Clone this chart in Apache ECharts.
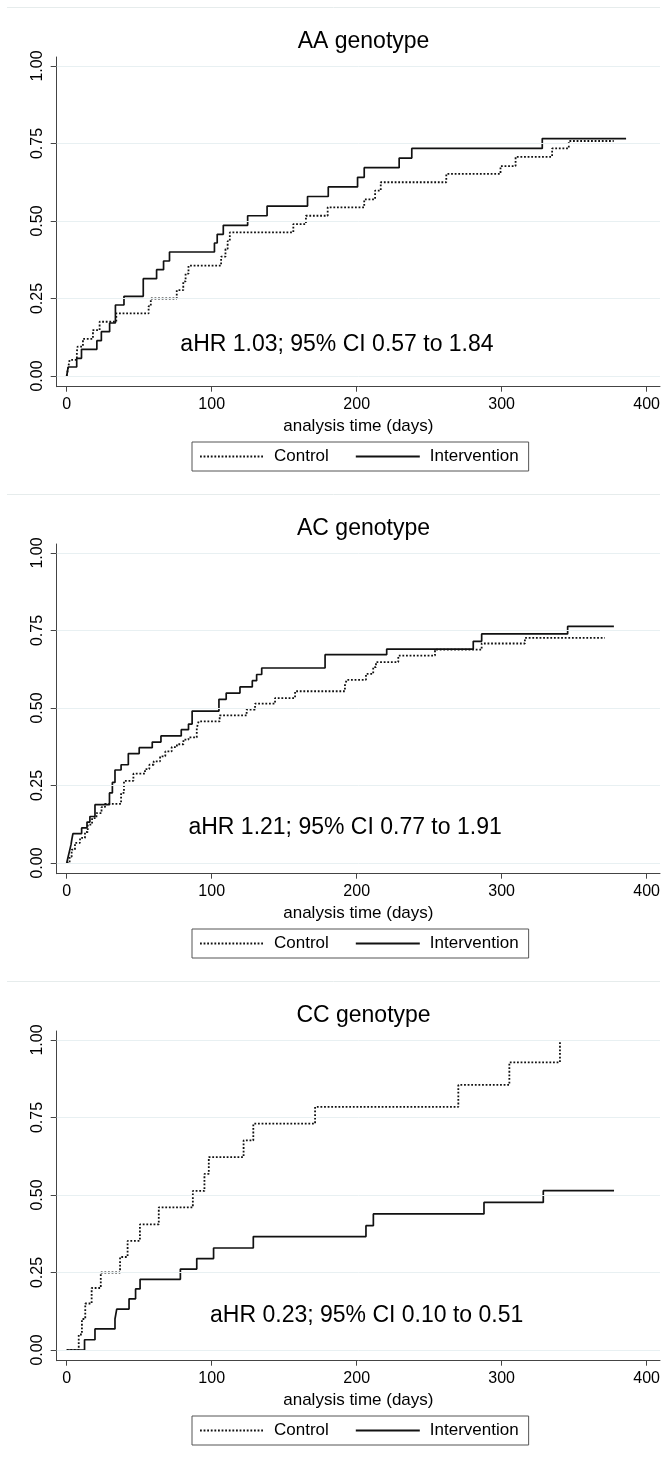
<!DOCTYPE html>
<html><head><meta charset="utf-8">
<script src="https://cdn.jsdelivr.net/npm/echarts@6/dist/echarts.min.js"></script>
<style>
html,body{margin:0;padding:0;background:#fff;}
.panel{width:667px;height:487px;}
</style></head><body>
<div id="p0" class="panel"></div><div id="p1" class="panel"></div><div id="p2" class="panel"></div>
<script>
const panelTitles = ['AA genotype', 'AC genotype', 'CC genotype'];
const annotations = ['aHR 1.03; 95% CI 0.57 to 1.84', 'aHR 1.21; 95% CI 0.77 to 1.91', 'aHR 0.23; 95% CI 0.10 to 0.51'];
const seriesNames = ['Control', 'Intervention'];
const xAxisTitle = 'analysis time (days)';
const xTicks = [0, 100, 200, 300, 400];
const yTicks = [0, 0.25, 0.5, 0.75, 1];

const aaControl = [[0,0],[1,0.026],[2,0.052],[7,0.078],[7.5,0.095],[11.2,0.12],[18.1,0.148],[22.7,0.175],[34.2,0.202],[56.5,0.225],[58,0.25],[75.9,0.277],[80.4,0.305],[82,0.33],[84,0.356],[106.5,0.385],[109.5,0.41],[111,0.435],[112.5,0.463],[156.3,0.49],[165,0.517],[180,0.544],[205.2,0.57],[212.7,0.598],[216.6,0.625],[261.8,0.652],[299.2,0.677],[309.6,0.707],[334.8,0.734],[346.3,0.758],[377.3,0.758]];
const aaIntervention = [[0,0],[1,0.029],[6.9,0.057],[10.2,0.086],[20.8,0.114],[23.9,0.143],[29.6,0.171],[33.6,0.229],[39.5,0.257],[52.8,0.314],[62,0.343],[66.8,0.371],[70.9,0.4],[101.9,0.429],[103.8,0.457],[108,0.486],[124.8,0.517],[138.2,0.548],[166.1,0.579],[180.4,0.61],[200.6,0.641],[205.2,0.672],[229.3,0.703],[238,0.734],[328,0.766],[385.8,0.766]];

const acControl = [[0,0],[2,0.02],[3.4,0.043],[5.7,0.065],[9.2,0.081],[12.6,0.1],[14.5,0.124],[17.5,0.145],[20.5,0.161],[24,0.18],[26.4,0.191],[37.5,0.226],[39.5,0.265],[46,0.288],[54,0.303],[57,0.317],[60,0.328],[64.4,0.344],[68,0.36],[72.4,0.374],[76,0.383],[80.5,0.398],[84,0.405],[89.7,0.435],[91,0.457],[105.5,0.476],[124.1,0.495],[129.9,0.514],[143.7,0.532],[157.5,0.554],[191.9,0.573],[193.1,0.591],[206.4,0.61],[211.4,0.632],[213.3,0.648],[228.7,0.669],[254,0.688],[286.2,0.708],[316,0.726],[371.2,0.726]];
const acIntervention = [[0,0],[1,0.02],[2,0.04],[3,0.06],[3.5,0.075],[4.3,0.095],[10.3,0.113],[14,0.132],[16,0.15],[19.5,0.188],[29.5,0.226],[31.5,0.26],[33.3,0.3],[37.5,0.317],[42.5,0.353],[50,0.372],[59,0.39],[65,0.41],[79,0.43],[84,0.448],[86.5,0.49],[105,0.528],[110,0.548],[119.5,0.568],[128,0.588],[131,0.608],[134.5,0.629],[178.2,0.672],[220.7,0.69],[280.4,0.715],[286.2,0.739],[345.5,0.763],[377.4,0.763]];

const ccControl = [[0,0],[8.3,0.05],[10.5,0.1],[12.8,0.15],[17.2,0.2],[23.5,0.25],[36.8,0.3],[42,0.352],[50.5,0.405],[63.5,0.46],[87,0.513],[95,0.568],[98,0.622],[122,0.676],[128.7,0.73],[171.3,0.784],[270.1,0.855],[305.3,0.928],[340.2,1.0]];
const ccIntervention = [[0,0],[12.3,0.033],[19.5,0.068],[33.3,0.1],[34.5,0.132],[43,0.165],[47.5,0.197],[50.6,0.228],[78.4,0.261],[89.7,0.295],[101.3,0.329],[128.7,0.366],[206.4,0.401],[211.5,0.439],[287.8,0.476],[328.7,0.514],[377.5,0.514]];

const panelData = [[aaControl, aaIntervention], [acControl, acIntervention], [ccControl, ccIntervention]];

const FONT = '"Liberation Sans", Arial, sans-serif';
const annotAt = [[186.4, 0.1], [192, 0.113], [206.9, 0.11]];

panelData.forEach(function (pair, i) {
  const chart = echarts.init(document.getElementById('p' + i), null, { renderer: 'canvas' });
  const option = {
    animation: false,
    backgroundColor: '#fff',
    textStyle: { fontFamily: FONT },
    title: {
      text: panelTitles[i], left: 358.5, top: 25, textAlign: 'center',
      textStyle: { fontFamily: FONT, fontSize: 23, fontWeight: 'normal', color: '#000' }
    },
    graphic: [{
      type: 'line', shape: { x1: 7, y1: 7.5, x2: 660, y2: 7.5 },
      style: { stroke: '#E6ECEC', lineWidth: 1 }, silent: true
    }],
    grid: { left: 56.7, right: 7, top: 57, bottom: 100.3 },
    xAxis: {
      type: 'value', min: -6.9, max: 409.2,
      name: xAxisTitle, nameLocation: 'middle', nameGap: 28,
      nameTextStyle: { fontFamily: FONT, fontSize: 17, color: '#000' },
      axisLine: { onZero: false, lineStyle: { color: '#444', width: 1 } },
      axisTick: { customValues: xTicks, length: 5, lineStyle: { color: '#444' } },
      axisLabel: { customValues: xTicks, fontFamily: FONT, fontSize: 16, color: '#000', margin: 10 },
      splitLine: { show: false }
    },
    yAxis: {
      type: 'value', min: -0.0345, max: 1.029,
      axisLine: { show: true, onZero: false, lineStyle: { color: '#444', width: 1 } },
      axisTick: { show: true, customValues: yTicks, length: 6, lineStyle: { color: '#444' } },
      axisLabel: { customValues: yTicks, rotate: 90, fontFamily: FONT, fontSize: 16, color: '#000', margin: 11,
        formatter: function (v) { return v.toFixed(2); } },
      splitLine: { show: false }
    },
    legend: {
      data: seriesNames, left: 192, top: 442,
      orient: 'horizontal', itemGap: 26, itemWidth: 64, itemHeight: 14,
      padding: [6, 10, 6, 7],
      borderColor: '#555', borderWidth: 1,
      itemStyle: { opacity: 0 },
      textStyle: { fontFamily: FONT, fontSize: 17, color: '#000', padding: [0, 0, 0, 5] },
      selectedMode: false
    },
    series: [
      {
        name: seriesNames[0], type: 'line', step: 'end', data: pair[0],
        showSymbol: false, symbol: 'none',
        lineStyle: { color: '#111', width: 1.8, type: [1.8, 1.8] },
        itemStyle: { color: '#111' },
        markLine: {
          silent: true, symbol: 'none', label: { show: false },
          lineStyle: { color: '#E8F0F2', width: 1, type: 'solid' },
          data: yTicks.map(function (v) { return { yAxis: v }; })
        },
        z: 3
      },
      {
        name: seriesNames[1], type: 'line', step: 'end', data: pair[1],
        showSymbol: false, symbol: 'none',
        lineStyle: { color: '#111', width: 1.7, type: 'solid' },
        itemStyle: { color: '#111' },
        z: 4
      },
      {
        type: 'scatter', data: [annotAt[i]], symbolSize: 0, silent: true,
        itemStyle: { opacity: 1 },
        label: { show: true, position: 'inside', formatter: annotations[i],
          fontFamily: FONT, fontSize: 23, color: '#000', opacity: 1 },
        z: 5
      }
    ]
  };
  chart.setOption(option);
});
</script>
</body></html>
